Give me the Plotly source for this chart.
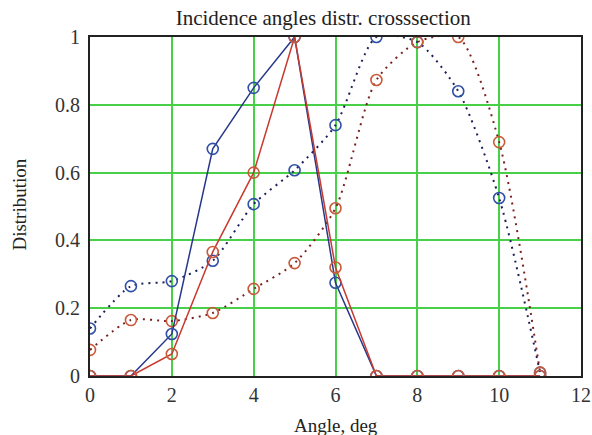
import plotly.graph_objects as go

# Angle grid (deg)
angle = [0, 1, 2, 3, 4, 5, 6, 7, 8, 9, 10, 11]

# Measured distributions (solid lines)
blue_solid = [0.0, 0.0, 0.124, 0.67, 0.85, 1.0, 0.275, 0.0, 0.0, 0.0, 0.0, 0.0]
red_solid = [0.0, 0.0, 0.065, 0.366, 0.60, 1.0, 0.32, 0.0, 0.0, 0.0, 0.0, 0.0]

# Cross-section weighted distributions (dotted curves)
blue_dotted = [0.14, 0.265, 0.28, 0.34, 0.507, 0.607, 0.74, 1.0, 0.985, 0.84, 0.525, 0.01]
red_dotted = [0.077, 0.165, 0.162, 0.186, 0.257, 0.333, 0.495, 0.873, 0.985, 1.0, 0.69, 0.01]

x_ticks = [0, 2, 4, 6, 8, 10, 12]
y_ticks = [0, 0.2, 0.4, 0.6, 0.8, 1]

SERIF = "Liberation Serif"
DOTS = "2px,5px"

fig = go.Figure()

fig.add_trace(go.Scatter(
    x=angle, y=blue_dotted, mode="lines+markers", line_shape="spline",
    line=dict(color="#1c1f5a", width=2, dash=DOTS, smoothing=0.7),
    marker=dict(symbol="circle-open", size=11, color="#3050a8", line=dict(width=1.6)),
))
fig.add_trace(go.Scatter(
    x=angle, y=red_dotted, mode="lines+markers", line_shape="spline",
    line=dict(color="#7a2020", width=2, dash=DOTS, smoothing=0.7),
    marker=dict(symbol="circle-open", size=11, color="#c85a3a", line=dict(width=1.6)),
))
fig.add_trace(go.Scatter(
    x=angle, y=blue_solid, mode="lines+markers",
    line=dict(color="#27378a", width=1.5),
    marker=dict(symbol="circle-open", size=11, color="#3050a8", line=dict(width=1.6)),
))
fig.add_trace(go.Scatter(
    x=angle, y=red_solid, mode="lines+markers",
    line=dict(color="#c83a30", width=1.5),
    marker=dict(symbol="circle-open", size=11, color="#c85a3a", line=dict(width=1.6)),
))

axis_common = dict(
    showgrid=True, gridcolor="#48d048", gridwidth=2,
    showline=True, linecolor="#222222", linewidth=2, mirror=True,
    zeroline=False, ticks="", automargin=False,
    tickfont=dict(family=SERIF, size=20, color="#333333"),
)

fig.update_layout(
    width=592, height=435,
    margin=dict(l=90, r=11, t=37, b=59),
    paper_bgcolor="white", plot_bgcolor="white",
    showlegend=False,
    title=dict(text="Incidence angles distr. crosssection", x=0.546, xanchor="center",
               y=1 - 18 / 435, yanchor="middle",
               font=dict(family=SERIF, size=21, color="#222222")),
    xaxis=dict(range=[0, 12], tickvals=x_ticks, **axis_common),
    yaxis=dict(range=[0, 1], tickvals=y_ticks, ticklabelstandoff=4, **axis_common),
    annotations=[
        dict(text="Angle, deg", xref="paper", yref="paper", x=0.5, y=-0.145,
             xanchor="center", yanchor="middle", showarrow=False,
             font=dict(family=SERIF, size=19, color="#222222")),
        dict(text="Distribution", xref="paper", yref="paper", x=-0.143, y=0.505,
             xanchor="center", yanchor="middle", showarrow=False, textangle=-90,
             font=dict(family=SERIF, size=19, color="#222222")),
    ],
)

fig.write_html("out.html")
